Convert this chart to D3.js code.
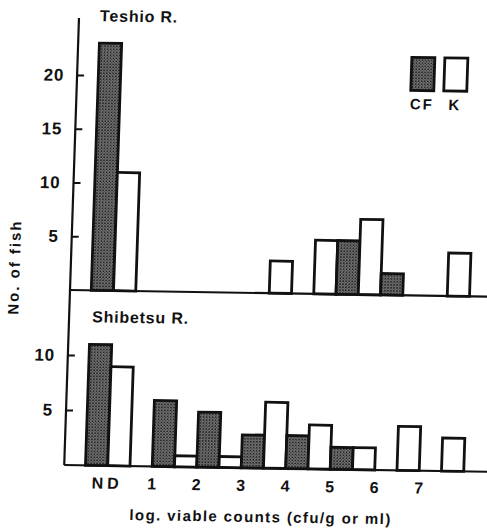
<!DOCTYPE html>
<html>
<head>
<meta charset="utf-8">
<script src="https://cdn.jsdelivr.net/npm/d3@7"></script>
<style>
  body { margin: 0; background: #fff; }
  text { font-family: "Liberation Sans", Arial, Helvetica, sans-serif; font-weight: bold; fill: #111; }
</style>
</head>
<body>
<div id="chart"></div>
<script>
// data (number of fish per log viable count bin)
var bins = ["ND", "1", "2", "3", "4", "5", "6", "7"];
var tickLabels = ["ND", "1", "2", "3", "4", "5", "6", "7"];
var teshioCF = [23, 0, 0, 0, 0, 5, 2, 0];
var teshioK = [11, 0, 0, 3, 5, 7, 0, 4];
var shibetsuCF = [11, 6, 5, 3, 3, 2, 0, 0];
var shibetsuK = [9, 1, 1, 6, 4, 2, 4, 3];
var topTicks = [5, 10, 15, 20];
var bottomTicks = [5, 10];

var width = 487, height = 528;

var svg = d3.select("#chart").append("svg")
    .attr("width", width)
    .attr("height", height);

// stippled fill for the CF bars
var pat = svg.append("defs").append("pattern")
    .attr("id", "stipple")
    .attr("width", 3).attr("height", 3)
    .attr("patternUnits", "userSpaceOnUse");
pat.append("rect").attr("width", 3).attr("height", 3).attr("fill", "#6e6e6e");
pat.append("rect").attr("x", 0).attr("y", 0).attr("width", 1.5).attr("height", 1.5).attr("fill", "#262626");
pat.append("rect").attr("x", 1.5).attr("y", 1.5).attr("width", 1).attr("height", 1).attr("fill", "#3c3c3c");

// the scan is slightly sheared, reproduce that on the whole figure
var axisX = 70, topBase = 290, bottomBase = 465;
var g = svg.append("g")
    .attr("transform", "translate(" + axisX + "," + topBase + ") matrix(1,0.016,-0.033,1,0,0) translate(" + (-axisX) + "," + (-topBase) + ")");

var x = d3.scaleLinear().domain([0, 7]).range([113.5, 425]);
var yTop = d3.scaleLinear().domain([0, 20]).range([topBase, 75]);
var yBottom = d3.scaleLinear().domain([0, 10]).range([bottomBase, 355]);

// bar pair for a bin: ND is centred on its label, the others start at theirs
function pairStart(i) { return i === 0 ? -0.5 : i; }

function drawBars(cf, k, y) {
    var rows = [];
    bins.forEach(function(b, i) {
        rows.push({ v: cf[i], s: pairStart(i), type: "CF" });
        rows.push({ v: k[i], s: pairStart(i) + 0.5, type: "K" });
    });
    g.append("g").selectAll("rect")
        .data(rows.filter(function(d) { return d.v > 0; }))
        .enter().append("rect")
        .attr("x", function(d) { return x(d.s); })
        .attr("width", function(d) { return x(d.s + 0.5) - x(d.s); })
        .attr("y", function(d) { return y(d.v); })
        .attr("height", function(d) { return y(0) - y(d.v); })
        .attr("fill", function(d) { return d.type === "CF" ? "url(#stipple)" : "#fff"; })
        .attr("stroke", "#111")
        .attr("stroke-width", 2.8);
}

drawBars(teshioCF, teshioK, yTop);
drawBars(shibetsuCF, shibetsuK, yBottom);

// axes lines
g.append("line").attr("x1", axisX).attr("x2", axisX).attr("y1", 18).attr("y2", bottomBase)
    .attr("stroke", "#111").attr("stroke-width", 2.2);
g.append("line").attr("x1", axisX).attr("x2", 520).attr("y1", topBase).attr("y2", topBase)
    .attr("stroke", "#111").attr("stroke-width", 2.2);
g.append("line").attr("x1", axisX).attr("x2", 520).attr("y1", bottomBase).attr("y2", bottomBase)
    .attr("stroke", "#111").attr("stroke-width", 2.2);

function yAxis(scale, ticks) {
    var a = g.append("g")
        .attr("transform", "translate(" + axisX + ",0)")
        .call(d3.axisLeft(scale).tickValues(ticks).tickSize(-7).tickPadding(13));
    a.select(".domain").remove();
    a.selectAll("line").attr("stroke", "#111").attr("stroke-width", 2);
    a.selectAll("text").attr("font-size", 17).attr("fill", "#111")
        .attr("letter-spacing", 0.8)
        .style("font-family", "'Liberation Sans', Arial, sans-serif").style("font-weight", "bold");
}
yAxis(yTop, topTicks);
yAxis(yBottom, bottomTicks);

// x tick labels
g.append("g").selectAll("text")
    .data(tickLabels)
    .enter().append("text")
    .attr("x", function(d, i) { return x(i); })
    .attr("y", 488)
    .attr("text-anchor", "middle")
    .attr("font-size", 16)
    .attr("letter-spacing", function(d) { return d === "ND" ? 4 : 0; })
    .text(function(d) { return d; });

// panel titles
g.append("text").attr("x", 91).attr("y", 21).attr("font-size", 16)
    .attr("letter-spacing", 0.8).text("Teshio R.");
g.append("text").attr("x", 93).attr("y", 322).attr("font-size", 16)
    .attr("letter-spacing", 0.8).text("Shibetsu R.");

// axis titles
g.append("text").attr("x", 268).attr("y", 519).attr("text-anchor", "middle")
    .attr("font-size", 15).attr("letter-spacing", 1.4)
    .text("log. viable counts (cfu/g or ml)");
g.append("text")
    .attr("transform", "translate(19,268) rotate(-90)")
    .attr("text-anchor", "middle")
    .attr("font-size", 15).attr("letter-spacing", 2)
    .text("No. of fish");

// legend
var legend = [
    { name: "CF", fill: "url(#stipple)", x: 404 },
    { name: "K", fill: "#fff", x: 437 }
];
var lg = g.append("g").selectAll("g").data(legend).enter().append("g");
lg.append("rect")
    .attr("x", function(d) { return d.x; })
    .attr("y", 52).attr("width", 23).attr("height", 33)
    .attr("fill", function(d) { return d.fill; })
    .attr("stroke", "#111").attr("stroke-width", 2.8);
lg.append("text")
    .attr("x", function(d) { return d.x + 11.5; })
    .attr("y", 104)
    .attr("text-anchor", "middle")
    .attr("font-size", 15).attr("letter-spacing", 2)
    .text(function(d) { return d.name; });
</script>
</body>
</html>
